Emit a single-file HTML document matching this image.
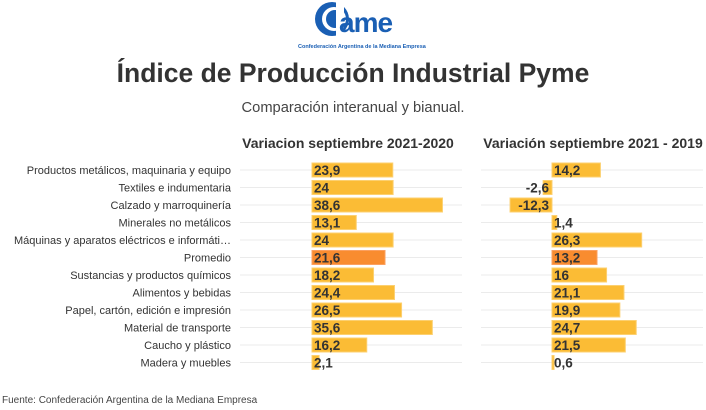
<!DOCTYPE html>
<html><head><meta charset="utf-8"><style>
body{margin:0;background:#fff;width:706px;height:405px;overflow:hidden;font-family:"Liberation Sans",sans-serif}
</style></head><body>
<svg width="706" height="405" xmlns="http://www.w3.org/2000/svg" font-family="Liberation Sans, sans-serif">
<g>
<circle cx="332" cy="19" r="17" fill="#1a5fb4"/>
<circle cx="334" cy="19" r="12" fill="#fff"/>
<circle cx="335" cy="19" r="9" fill="#1a5fb4"/>
<rect x="336" y="2" width="8" height="34" fill="#fff"/>
<text x="339" y="32" font-size="28" font-weight="bold" fill="#1a5fb4" letter-spacing="-1">ame</text>
<text x="298" y="48" font-size="5.5" font-weight="bold" fill="#1a5fb4">Confederación Argentina de la Mediana Empresa</text>
</g>
<text x="353" y="82" text-anchor="middle" font-size="26.5" font-weight="bold" fill="#333">Índice de Producción Industrial Pyme</text>
<text x="353" y="112" text-anchor="middle" font-size="14.7" fill="#444">Comparación interanual y bianual.</text>
<text x="348" y="148" text-anchor="middle" font-size="14" font-weight="bold" fill="#333">Variacion septiembre 2021-2020</text>
<text x="593" y="148" text-anchor="middle" font-size="14" font-weight="bold" fill="#333">Variación septiembre 2021 - 2019</text>
<g id="rows"></g>
<text x="2" y="403" font-size="10" fill="#444">Fuente: Confederación Argentina de la Mediana Empresa</text>
</svg>
<script>
var d=[["Productos metálicos, maquinaria y equipo","23,9","14,2"],["Textiles e indumentaria","24","-2,6"],["Calzado y marroquinería","38,6","-12,3"],["Minerales no metálicos","13,1","1,4"],["Máquinas y aparatos eléctricos e informáti…","24","26,3"],["Promedio","21,6","13,2"],["Sustancias y productos químicos","18,2","16"],["Alimentos y bebidas","24,4","21,1"],["Papel, cartón, edición e impresión","26,5","19,9"],["Material de transporte","35,6","24,7"],["Caucho y plástico","16,2","21,5"],["Madera y muebles","2,1","0,6"]];
var s="",g=document.getElementById("rows");
d.forEach(function(r,i){
var y=170+i*17.5, col=i==5?"#f98c2f":"#fbbc35", st=i==5?"#fba060":"#fcd070";
s+='<line x1="240" x2="462" y1="'+y+'" y2="'+y+'" stroke="#ebebeb"/>';
s+='<line x1="481" x2="703" y1="'+y+'" y2="'+y+'" stroke="#ebebeb"/>';
s+='<text x="231" y="'+(y+4)+'" text-anchor="end" font-size="11" fill="#333">'+r[0]+'</text>';
var a=parseFloat(r[1].replace(",",".")),w=a*3.38;
s+='<rect x="312" y="'+(y-7)+'" width="'+w+'" height="14" fill="'+col+'" stroke="'+st+'" stroke-width="1"/>';
s+='<text x="314" y="'+(y+5)+'" font-size="13.5" font-weight="bold" fill="#333">'+r[1]+'</text>';
var b=parseFloat(r[2].replace(",",".")),w2=Math.abs(b)*3.41;
if(b>=0){s+='<rect x="552" y="'+(y-7)+'" width="'+w2+'" height="14" fill="'+col+'" stroke="'+st+'"/>';
s+='<text x="554" y="'+(y+5)+'" font-size="13.5" font-weight="bold" fill="#333">'+r[2]+'</text>';}
else{s+='<rect x="'+(552-w2)+'" y="'+(y-7)+'" width="'+w2+'" height="14" fill="'+col+'" stroke="'+st+'"/>';
s+='<text x="549" y="'+(y+5)+'" text-anchor="end" font-size="13.5" font-weight="bold" fill="#333">'+r[2]+'</text>';}
});
g.innerHTML=s;
</script>
</body></html>
